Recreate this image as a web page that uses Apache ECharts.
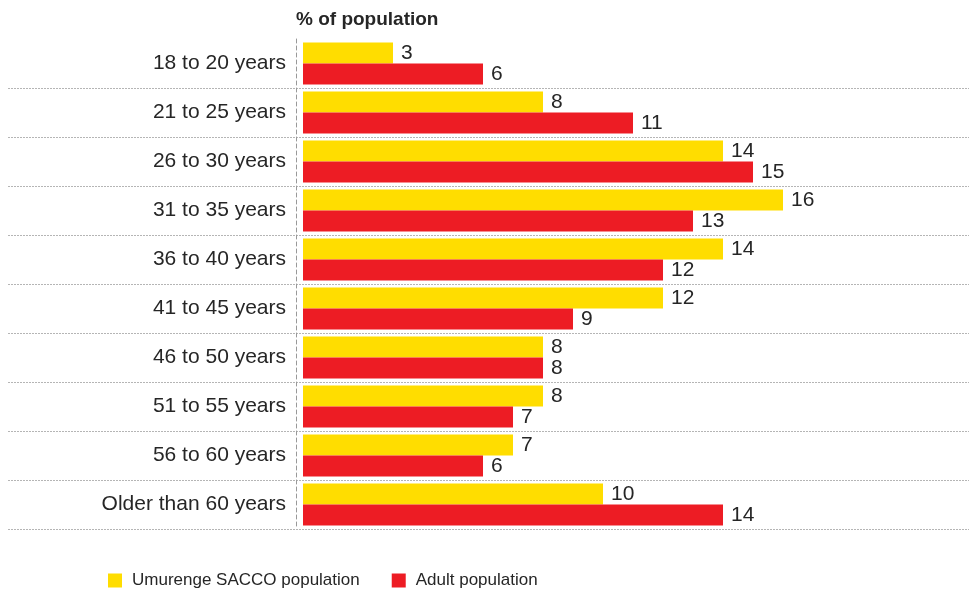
<!DOCTYPE html>
<html>
<head>
<meta charset="utf-8">
<script src="https://cdn.jsdelivr.net/npm/echarts@6/dist/echarts.min.js"></script>
<style>
  html, body { margin: 0; padding: 0; background: #fff; }
  #chart { width: 969px; height: 590px; }
</style>
</head>
<body>
<div id="chart"></div>
<script>
// age groups, top to bottom
const ageGroups = ['18 to 20 years', '21 to 25 years', '26 to 30 years', '31 to 35 years', '36 to 40 years',
  '41 to 45 years', '46 to 50 years', '51 to 55 years', '56 to 60 years', 'Older than 60 years']
// % of population
const saccoPop = [3, 8, 14, 16, 14, 12, 8, 8, 7, 10]
const adultPop = [6, 11, 15, 13, 12, 9, 8, 7, 6, 14]
const seriesNames = ['Umurenge SACCO population', 'Adult population']

const FONT = '"Liberation Sans Narrow", "Liberation Sans", Arial, sans-serif'
const TXT = '#262626'

const chart = echarts.init(document.getElementById('chart'))

const valueLabel = {
  show: true,
  position: 'right',
  distance: 8,
  color: TXT,
  fontFamily: FONT,
  fontSize: 21
}

chart.setOption({
  animation: false,
  title: {
    text: '% of population',
    left: 296,
    top: 10,
    padding: 0,
    textStyle: { fontFamily: FONT, fontSize: 19, fontWeight: 'bold', color: TXT }
  },
  legend: {
    data: seriesNames,
    left: 108,
    top: 572,
    padding: 0,
    icon: 'rect',
    itemWidth: 14,
    itemHeight: 14,
    itemGap: 32,
    textStyle: { fontFamily: FONT, fontSize: 17, color: TXT, padding: [0, 0, 0, 5] }
  },
  grid: [
    // bars
    { left: 303, top: 39, width: 600, height: 490 },
    // dotted row separators across the full width
    { left: 8, right: 0, top: 88, height: 441 }
  ],
  xAxis: [
    { gridIndex: 0, type: 'value', min: 0, max: 20, show: false },
    { gridIndex: 1, type: 'value', min: 0, max: 1, show: false }
  ],
  yAxis: [
    {
      gridIndex: 0,
      type: 'category',
      data: ageGroups,
      inverse: true,
      offset: 7,
      axisLine: { show: true, onZero: false, lineStyle: { color: '#999', type: [4, 3], width: 1 } },
      axisTick: { show: false },
      splitLine: { show: false },
      axisLabel: { margin: 10, color: TXT, fontFamily: FONT, fontSize: 21 }
    },
    {
      gridIndex: 1,
      type: 'value',
      min: 0,
      max: 9,
      interval: 1,
      axisLine: { show: false },
      axisTick: { show: false },
      axisLabel: { show: false },
      splitLine: { show: true, lineStyle: { color: '#b5b5b5', type: [2, 1], width: 1 } }
    }
  ],
  series: [
    {
      name: seriesNames[0],
      type: 'bar',
      data: saccoPop,
      barWidth: 21,
      barGap: '0%',
      itemStyle: { color: '#ffdd00' },
      label: valueLabel,
      z: 3
    },
    {
      name: seriesNames[1],
      type: 'bar',
      data: adultPop,
      barWidth: 21,
      barGap: '0%',
      itemStyle: { color: '#ed1c24' },
      label: valueLabel,
      z: 3
    }
  ]
})
</script>
</body>
</html>
